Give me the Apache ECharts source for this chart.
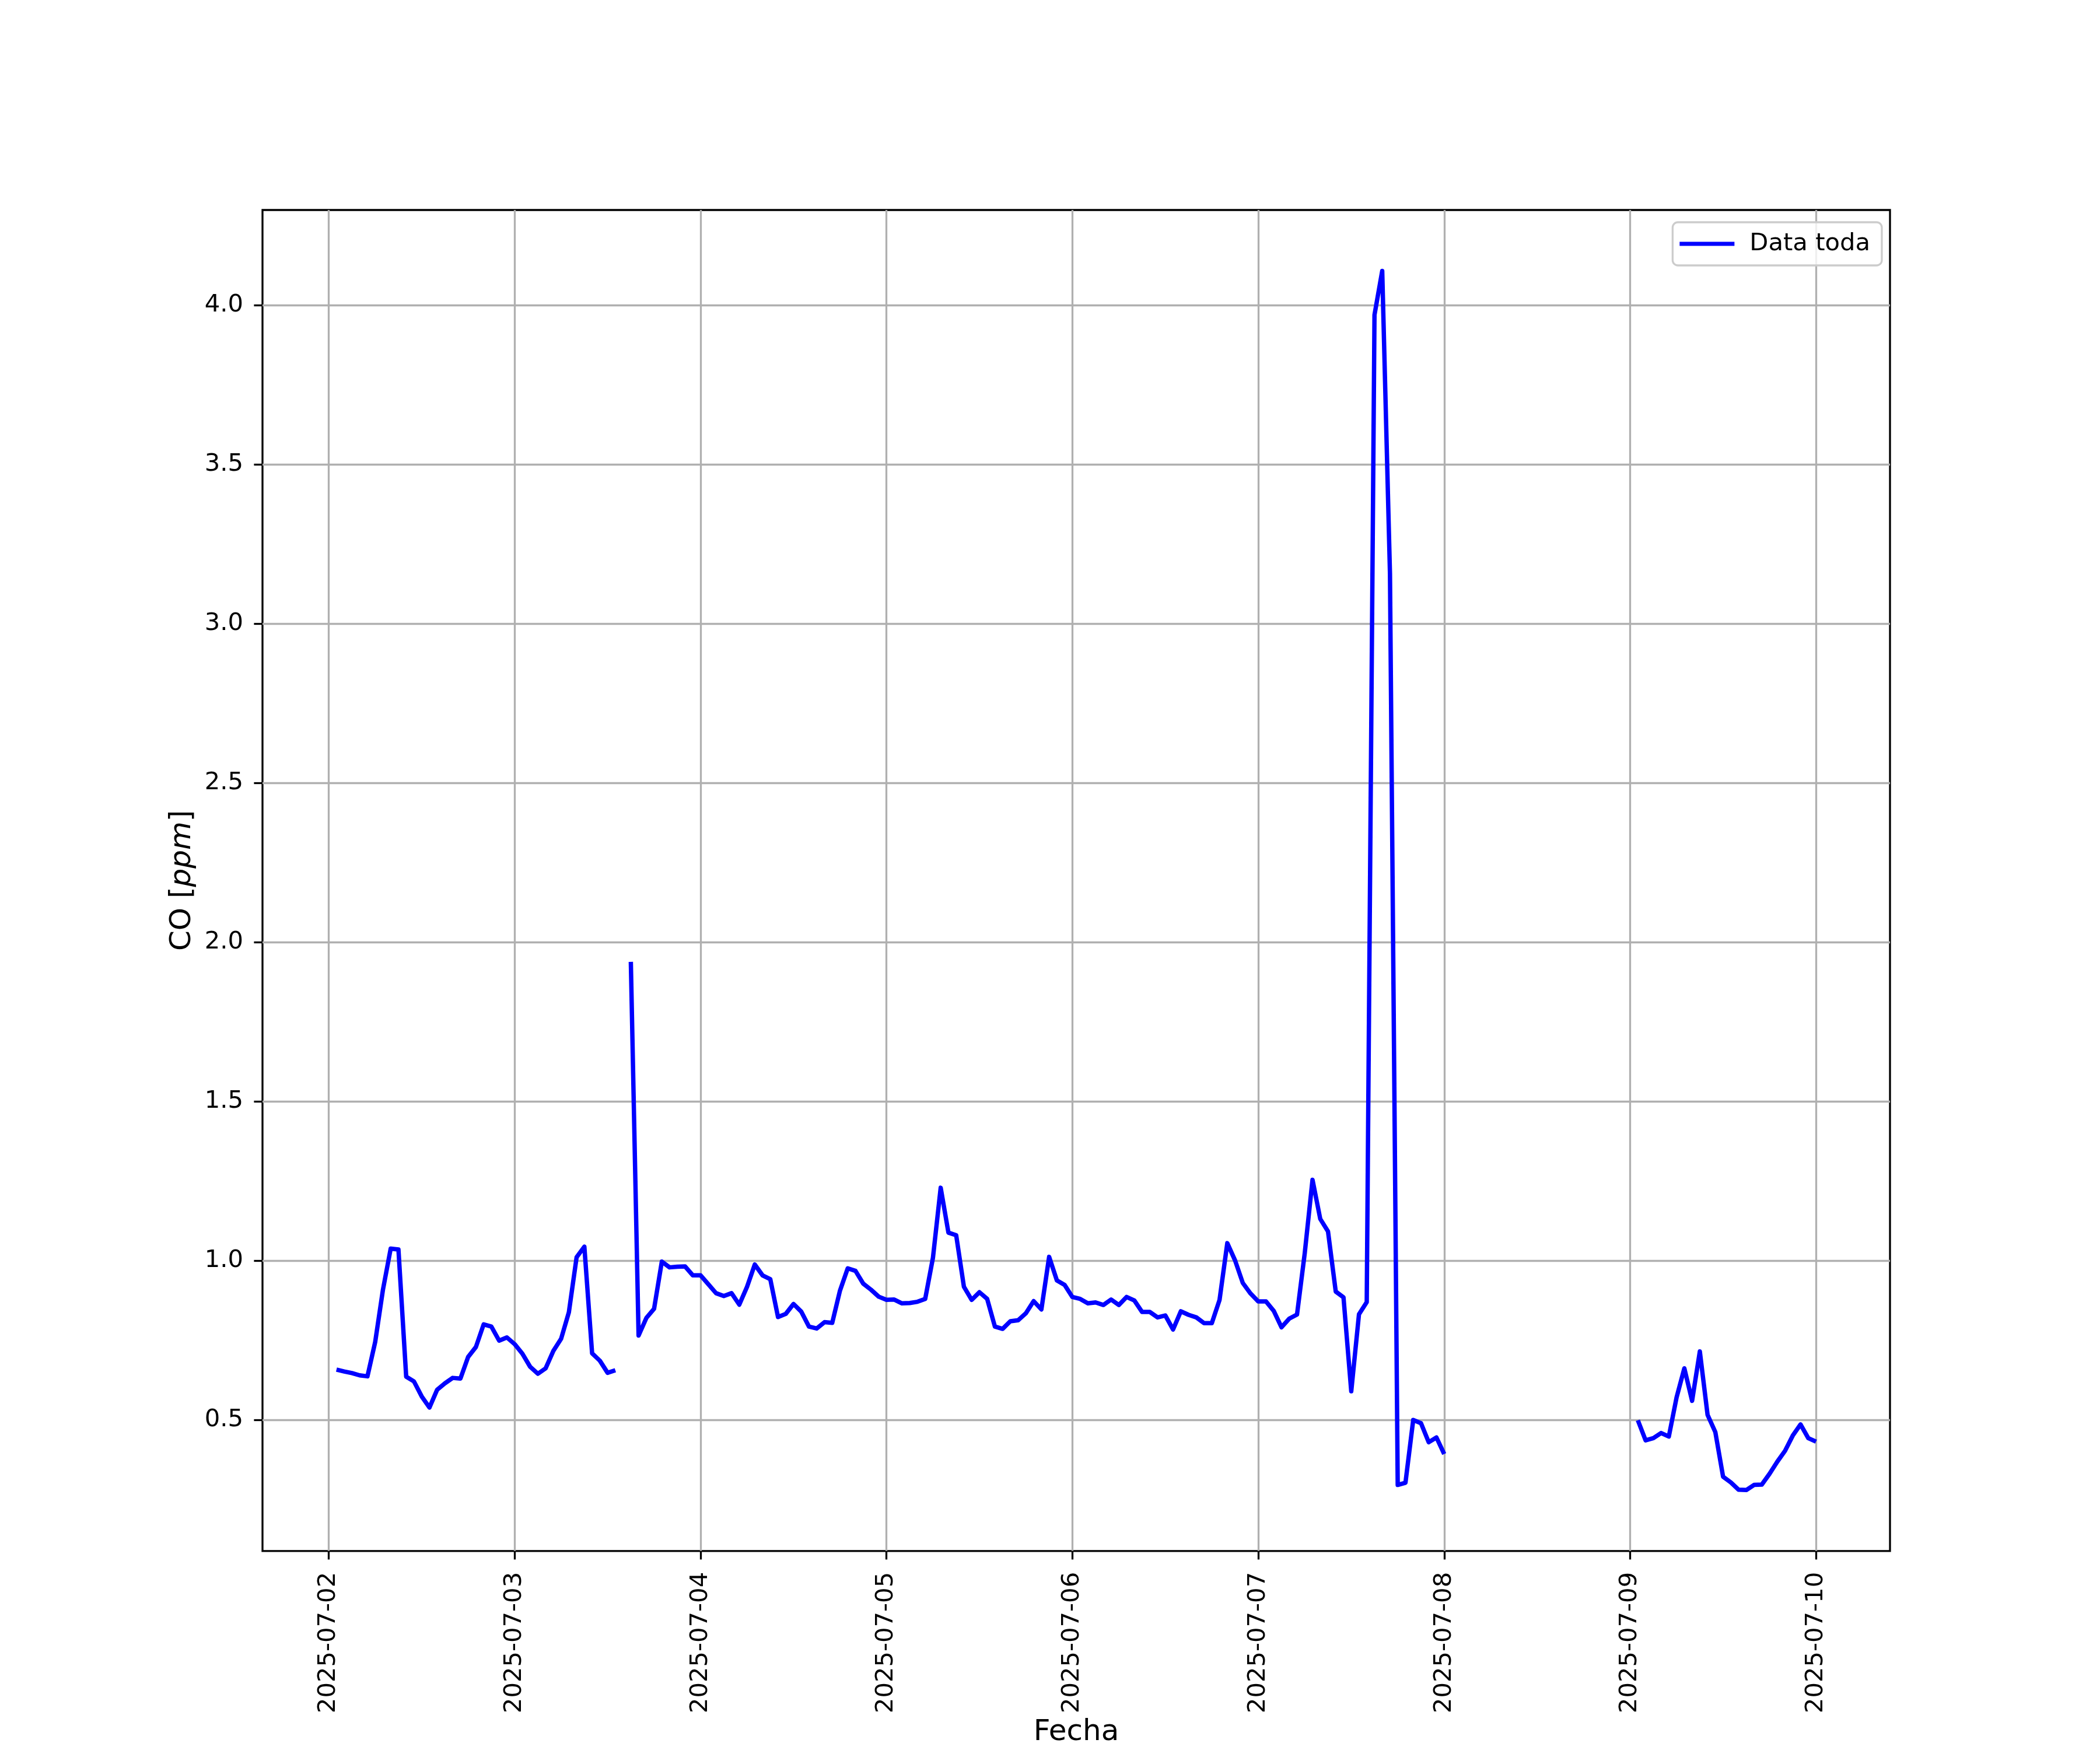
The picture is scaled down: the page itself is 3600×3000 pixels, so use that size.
<!DOCTYPE html>
<html>
<head>
<meta charset="utf-8">
<script src="https://cdn.jsdelivr.net/npm/echarts@6/dist/echarts.min.js"></script>
<style>html,body{margin:0;padding:0;background:#ffffff}#c{width:3600px;height:3000px}</style>
</head>
<body>
<div id="c"></div>
<script>
// ---------------- DATA ----------------
const seriesName = 'Data toda';

// Hourly CO readings (ppm); each segment starts at the given local time
const seg1Start = '2025-07-02T01:00';
const seg1Values = [
  0.658, 0.652, 0.647, 0.640, 0.637, 0.745, 0.909, 1.038, 1.035, 0.636, 0.621, 0.574,
  0.539, 0.595, 0.615, 0.632, 0.630, 0.698, 0.729, 0.800, 0.793, 0.749, 0.759,
  0.738, 0.708, 0.667, 0.645, 0.662, 0.717, 0.755, 0.838, 1.011, 1.044, 0.709, 0.686,
  0.648, 0.656
];

const seg2Start = '2025-07-03T15:00';
const seg2Values = [
  1.938, 0.765, 0.820, 0.849, 0.997, 0.979, 0.981, 0.982, 0.954,
  0.954, 0.926, 0.898, 0.889, 0.898, 0.862, 0.918, 0.988, 0.954, 0.942, 0.823, 0.833,
  0.864, 0.840, 0.793, 0.787, 0.807, 0.805, 0.906, 0.976, 0.968, 0.928, 0.909, 0.887,
  0.877, 0.878, 0.866, 0.867, 0.871, 0.880, 1.009, 1.229, 1.088, 1.080, 0.918, 0.877,
  0.901, 0.880, 0.793, 0.786, 0.810, 0.813, 0.835, 0.873, 0.847, 1.012, 0.938, 0.924,
  0.886, 0.880, 0.866, 0.869, 0.861, 0.878, 0.861, 0.886, 0.875, 0.839, 0.839, 0.822,
  0.828, 0.784, 0.841, 0.830, 0.822, 0.804, 0.804, 0.877, 1.055, 1.001, 0.930, 0.897,
  0.872, 0.872, 0.842, 0.791, 0.818, 0.831, 1.024, 1.254, 1.131, 1.092, 0.903, 0.885,
  0.590, 0.832, 0.870, 3.969, 4.107, 3.156, 0.296, 0.303, 0.500, 0.490, 0.430, 0.445,
  0.393
];

const seg3Start = '2025-07-09T01:00';
const seg3Values = [
  0.499, 0.436, 0.443, 0.459, 0.448, 0.571, 0.662, 0.560, 0.715, 0.516, 0.462, 0.322,
  0.304, 0.281, 0.280, 0.296, 0.297, 0.331, 0.369, 0.403, 0.451, 0.486, 0.443, 0.432
];

const xTickLabels = ['2025-07-02', '2025-07-03', '2025-07-04', '2025-07-05', '2025-07-06',
                     '2025-07-07', '2025-07-08', '2025-07-09', '2025-07-10'];
const yTickValues = [0.5, 1.0, 1.5, 2.0, 2.5, 3.0, 3.5, 4.0];

// ---------------- BUILD ----------------
const HOUR = 3600000;
function seg(start, vals) {
  const t0 = new Date(start).getTime();
  return vals.map((v, i) => [t0 + i * HOUR, v]);
}
const s1 = seg(seg1Start, seg1Values);
const s2 = seg(seg2Start, seg2Values);
const s3 = seg(seg3Start, seg3Values);
const data = [].concat(
  s1, [[s1[s1.length - 1][0] + HOUR, null]],
  s2, [[s2[s2.length - 1][0] + HOUR, null]],
  s3
);

const allVals = seg1Values.concat(seg2Values, seg3Values);
const vMin = Math.min.apply(null, allVals), vMax = Math.max.apply(null, allVals);
const yPad = (vMax - vMin) * 0.05;
const tFirst = s1[0][0], tLast = s3[s3.length - 1][0];
const xPad = (tLast - tFirst) * 0.05;

const tickTimes = xTickLabels.map(d => new Date(d + 'T00:00').getTime());
function xLabel(v) {
  let best = 0, bd = Infinity;
  tickTimes.forEach((t, i) => { const d = Math.abs(t - v); if (d < bd) { bd = d; best = i; } });
  return bd < HOUR ? xTickLabels[best] : '';
}

const FONT = 'DejaVu Sans';
const FS = 41.7;   // tick / legend text
const FSL = 50;    // axis titles

const chart = echarts.init(document.getElementById('c'), null, { renderer: 'canvas' });
chart.setOption({
  animation: false,
  backgroundColor: '#ffffff',
  grid: {
    left: 450, top: 360, width: 2790, height: 2310,
    show: true, borderColor: '#000000', borderWidth: 3.3, backgroundColor: 'transparent'
  },
  legend: {
    right: 374, top: 381,
    data: [{ name: seriesName, icon: 'rect' }],
    itemWidth: 94, itemHeight: 7,
    padding: [16, 20, 16, 12],
    borderColor: '#cccccc', borderWidth: 3.3, borderRadius: 9,
    backgroundColor: 'rgba(255,255,255,0.8)',
    textStyle: { fontFamily: FONT, fontSize: FS, color: '#000000', lineHeight: 42, padding: [0, 0, 0, 21] }
  },
  xAxis: {
    type: 'value', min: tFirst - xPad, max: tLast + xPad,
    axisLine: { show: false },
    axisTick: { show: true, customValues: tickTimes, length: 14.6, lineStyle: { color: '#000000', width: 3.3 } },
    axisLabel: {
      customValues: tickTimes, rotate: 90, margin: 36,
      fontFamily: FONT, fontSize: FS, color: '#000000',
      formatter: v => xLabel(v)
    },
    splitLine: { show: true, lineStyle: { color: '#b0b0b0', width: 3.3 } },
    name: 'Fecha', nameLocation: 'middle', nameGap: 286,
    nameTextStyle: { fontFamily: FONT, fontSize: FSL, color: '#000000' }
  },
  yAxis: {
    type: 'value', min: vMin - yPad, max: vMax + yPad,
    axisLine: { show: false },
    axisTick: { show: true, customValues: yTickValues, length: 14.6, lineStyle: { color: '#000000', width: 3.3 } },
    axisLabel: {
      customValues: yTickValues, margin: 33,
      fontFamily: FONT, fontSize: FS, color: '#000000',
      formatter: v => Number(v).toFixed(1)
    },
    splitLine: { show: true, lineStyle: { color: '#b0b0b0', width: 3.3 } },
    name: '{n|CO [}{i|ppm}{n|]}', nameLocation: 'middle', nameGap: 112,
    nameTextStyle: {
      fontFamily: FONT, fontSize: FSL, color: '#000000',
      rich: {
        n: { fontFamily: FONT, fontSize: FSL, color: '#000000' },
        i: { fontFamily: FONT, fontSize: FSL, color: '#000000', fontStyle: 'italic' }
      }
    }
  },
  series: [{
    name: seriesName, type: 'line', data: data,
    showSymbol: false, symbol: 'none', connectNulls: false,
    itemStyle: { color: '#0000ff' },
    lineStyle: { color: '#0000ff', width: 7.5, join: 'round', cap: 'butt' }
  }]
});
</script>
</body>
</html>
